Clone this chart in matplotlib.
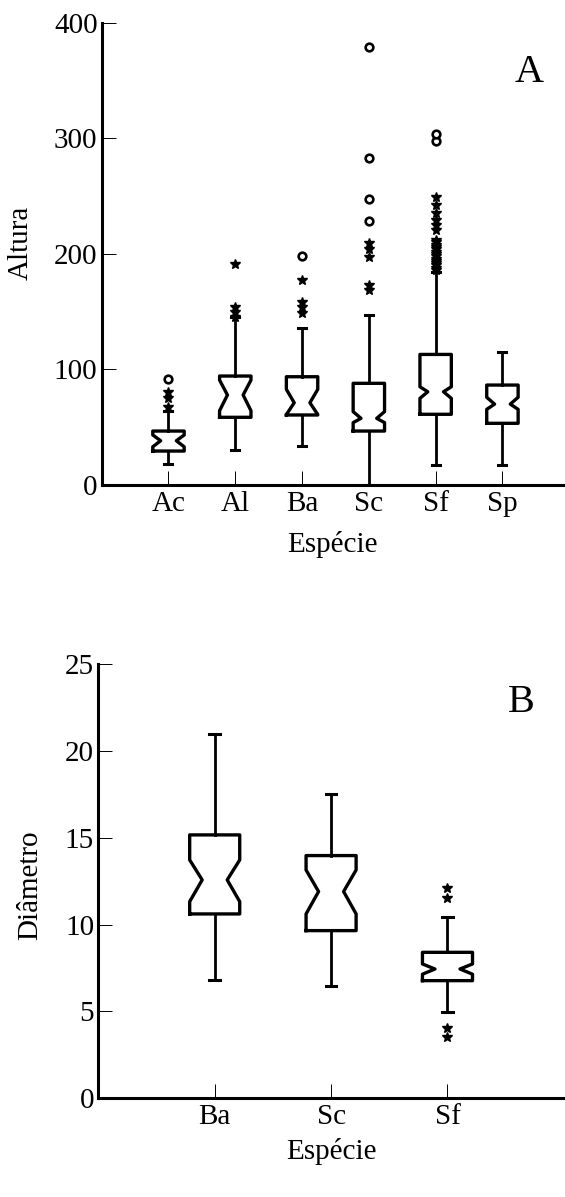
import numpy as np
import matplotlib
matplotlib.use('Agg')
import matplotlib.pyplot as plt

plt.rcParams['font.family'] = ['Liberation Serif', 'DejaVu Serif']

# panel A - Altura por espécie
speciesA = ['Ac', 'Al', 'Ba', 'Sc', 'Sf', 'Sp']
medA = [38.3, 77.9, 71.2, 57.7, 80.7, 70.0]
q1A = [29.4, 58.6, 60.6, 46.7, 61.2, 53.4]
q3A = [46.7, 94.3, 93.7, 88.0, 113.0, 86.5]
ciloA = [33.1, 64.3, 61.0, 54.0, 75.0, 65.5]
cihiA = [43.3, 90.8, 82.8, 63.5, 85.0, 75.9]
whisloA = [18.2, 30.3, 33.7, 0.0, 17.3, 17.3]
whishiA = [64.3, 145.0, 135.6, 147.0, 184.5, 115.3]
starsA = [
    [67.7, 75.0, 80.7],
    [145.6, 150.0, 154.3, 191.2],
    [148.5, 154.3, 158.6, 177.3],
    [168.7, 173.0, 197.0, 204.0, 209.0],
    [186, 188, 190, 192, 194, 196, 198, 200, 202, 204, 206, 208, 210, 212,
     220.6, 225, 229, 235, 242, 249.4],
    [],
]
circlesA = [
    [91.7],
    [],
    [198.4],
    [228.7, 247.2, 282.9, 378.7],
    [297.6, 303.7],
    [],
]

# panel B - Diâmetro por espécie
speciesB = ['Ba', 'Sc', 'Sf']
medB = [12.57, 11.90, 7.44]
q1B = [10.61, 9.65, 6.77]
q3B = [15.16, 13.97, 8.40]
ciloB = [11.32, 10.61, 7.14]
cihiB = [13.72, 13.14, 7.73]
whisloB = [6.81, 6.47, 4.99]
whishiB = [20.97, 17.50, 10.46]
starsB = [[], [], [3.51, 4.03, 11.51, 12.09]]
circlesB = [[], [], []]


def make_stats(labels, med, q1, q3, cilo, cihi, wlo, whi):
    stats = []
    for k in range(len(labels)):
        stats.append({'label': labels[k], 'med': med[k], 'q1': q1[k], 'q3': q3[k],
                      'cilo': cilo[k], 'cihi': cihi[k],
                      'whislo': wlo[k], 'whishi': whi[k], 'fliers': []})
    return stats


def draw_panel(ax, stats, stars, circles, width, capw, ylim, yticks, xmax,
               ylabel, letter, letter_xy, ylabel_xy, xlabel_y):
    pos = np.arange(1, len(stats) + 1)
    ax.bxp(stats, positions=pos, widths=width, capwidths=capw, shownotches=True,
           showfliers=False, patch_artist=False,
           boxprops=dict(color='black', linewidth=2.4),
           whiskerprops=dict(color='black', linewidth=2.0),
           capprops=dict(color='black', linewidth=2.2),
           medianprops=dict(linewidth=0))

    # outliers: stars (near) and open circles (far)
    for p, vals in zip(pos, stars):
        if vals:
            ax.plot(np.full(len(vals), p), vals, linestyle='none', marker='*',
                    markersize=7.5, color='black')
    for p, vals in zip(pos, circles):
        if vals:
            ax.plot(np.full(len(vals), p), vals, linestyle='none', marker='o',
                    markersize=5.5, markerfacecolor='white',
                    markeredgecolor='black', markeredgewidth=1.9)

    ax.set_xlim(0, xmax)
    ax.set_ylim(*ylim)
    ax.set_yticks(yticks)
    ax.set_xticks(pos)
    ax.set_xticklabels([s['label'] for s in stats])
    for s in ['top', 'right']:
        ax.spines[s].set_visible(False)
    for s in ['left', 'bottom']:
        ax.spines[s].set_linewidth(2.2)
    ax.tick_params(direction='in', length=10, width=0.7, labelsize=21)
    ax.tick_params(axis='y', pad=3)
    ax.tick_params(axis='x', pad=4)
    ax.set_xlabel('Espécie', fontsize=21)
    ax.xaxis.set_label_coords(0.5, xlabel_y)
    ax.set_ylabel(ylabel, fontsize=21)
    ax.yaxis.set_label_coords(*ylabel_xy)
    ax.text(letter_xy[0], letter_xy[1], letter, transform=ax.transAxes,
            fontsize=29, ha='center', va='center')


fig = plt.figure(figsize=(5.65, 11.97), dpi=100)
axA = fig.add_axes([0.180, 0.5948, 0.818, 0.3862])
axB = fig.add_axes([0.174, 0.0825, 0.824, 0.3628])

draw_panel(axA, make_stats(speciesA, medA, q1A, q3A, ciloA, cihiA, whisloA, whishiA),
           starsA, circlesA, width=0.47, capw=0.12, ylim=(0, 400),
           yticks=[0, 100, 200, 300, 400], xmax=6.92, ylabel='Altura',
           letter='A', letter_xy=(0.924, 0.892), ylabel_xy=(-0.148, 0.525),
           xlabel_y=-0.1)

draw_panel(axB, make_stats(speciesB, medB, q1B, q3B, ciloB, cihiB, whisloB, whishiB),
           starsB, circlesB, width=0.43, capw=0.09, ylim=(0, 25),
           yticks=[0, 5, 10, 15, 20, 25], xmax=4.0, ylabel='Diâmetro',
           letter='B', letter_xy=(0.908, 0.911), ylabel_xy=(-0.118, 0.49),
           xlabel_y=-0.091)

fig.savefig('out.png', dpi=100)
